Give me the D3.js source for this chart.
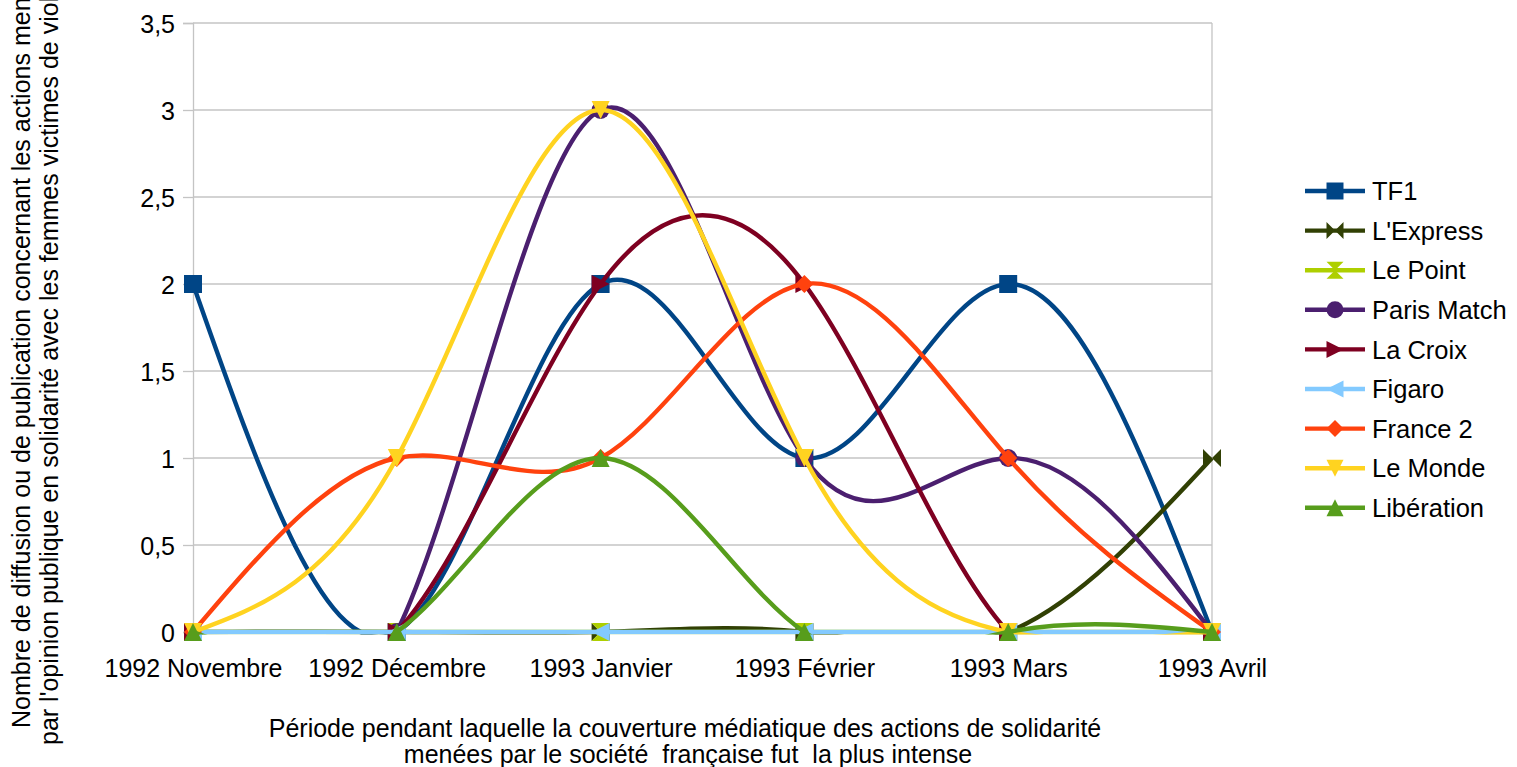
<!DOCTYPE html>
<html>
<head>
<meta charset="utf-8">
<script src="https://cdn.jsdelivr.net/npm/d3@7"></script>
<style>
  html, body { margin: 0; padding: 0; background: #fff; overflow: hidden; }
  svg text { font-family: "Liberation Sans", Arial, sans-serif; fill: #000; }
</style>
</head>
<body>
<svg id="chart" width="1517" height="767"></svg>
<script>
// data
var categories = ["1992 Novembre", "1992 Décembre", "1993 Janvier", "1993 Février", "1993 Mars", "1993 Avril"];
var seriesNames = ["TF1", "L'Express", "Le Point", "Paris Match", "La Croix", "Figaro", "France 2", "Le Monde", "Libération"];
var tf1        = [2, 0, 2, 1, 2, 0];
var lexpress   = [0, 0, 0, 0, 0, 1];
var lepoint    = [0, 0, 0, 0, 0, 0];
var parismatch = [0, 0, 3, 1, 1, 0];
var lacroix    = [0, 0, 2, 2, 0, 0];
var figaro     = [0, 0, 0, 0, 0, 0];
var france2    = [0, 1, 1, 2, 1, 0];
var lemonde    = [0, 1, 3, 1, 0, 0];
var liberation = [0, 0, 1, 0, 0, 0];
var yTicks = [0, 0.5, 1, 1.5, 2, 2.5, 3, 3.5];

var seriesValues = [tf1, lexpress, lepoint, parismatch, lacroix, figaro, france2, lemonde, liberation];
var colors = ["#004586", "#314004", "#aecf00", "#4b1f6f", "#7e0021", "#83caff", "#ff420e", "#ffd320", "#579d1c"];
var shapes = ["square", "bowtie", "hourglass", "circle", "right", "left", "diamond", "down", "up"];

// marker paths
function markerPath(shape, r) {
  switch (shape) {
    case "square": return "M" + (-r) + "," + (-r) + "H" + r + "V" + r + "H" + (-r) + "Z";
    case "bowtie": return "M" + (-r) + "," + (-r) + "L0,0L" + (-r) + "," + r + "Z M" + r + "," + (-r) + "L0,0L" + r + "," + r + "Z";
    case "hourglass": return "M" + (-r) + "," + (-r) + "L" + r + "," + (-r) + "L0,0Z M" + (-r) + "," + r + "L" + r + "," + r + "L0,0Z";
    case "circle": return "M" + r + ",0A" + r + "," + r + " 0 1,1 " + (-r) + ",0A" + r + "," + r + " 0 1,1 " + r + ",0Z";
    case "right": return "M" + (-r) + "," + (-r) + "L" + r + ",0L" + (-r) + "," + r + "Z";
    case "left": return "M" + r + "," + (-r) + "L" + (-r) + ",0L" + r + "," + r + "Z";
    case "diamond": return "M0," + (-r) + "L" + r + ",0L0," + r + "L" + (-r) + ",0Z";
    case "down": return "M" + (-r) + "," + (-r) + "L" + r + "," + (-r) + "L0," + r + "Z";
    case "up": return "M" + (-r) + "," + r + "L" + r + "," + r + "L0," + (-r) + "Z";
  }
}

var svg = d3.select("#chart");
var plot = {left: 193, right: 1212, top: 23, bottom: 632};

var x = d3.scalePoint().domain(categories).range([plot.left, plot.right]);
var y = d3.scaleLinear().domain([0, 3.5]).range([plot.bottom, plot.top]);

var fmt = d3.formatLocale({decimal: ",", thousands: " ", grouping: [3], currency: ["", "€"]}).format("~g");

// gridlines
svg.append("g")
  .selectAll("line")
  .data(yTicks)
  .enter().append("line")
    .attr("x1", plot.left)
    .attr("x2", plot.right)
    .attr("y1", function(d) { return y(d); })
    .attr("y2", function(d) { return y(d); })
    .attr("stroke", "#c4c4c4")
    .attr("stroke-width", 1.3);

// right border
svg.append("line")
  .attr("x1", plot.right).attr("x2", plot.right)
  .attr("y1", plot.top).attr("y2", plot.bottom)
  .attr("stroke", "#c4c4c4")
  .attr("stroke-width", 1.3);

// y axis
var yAxis = svg.append("g")
  .attr("transform", "translate(" + plot.left + ",0)")
  .call(d3.axisLeft(y).tickValues(yTicks).tickSize(10).tickPadding(8).tickFormat(fmt));
yAxis.select(".domain").attr("stroke", "#c4c4c4").attr("stroke-width", 1.3);
yAxis.selectAll(".tick line").attr("stroke", "#c4c4c4").attr("stroke-width", 1.3);
yAxis.selectAll(".tick text").style("font-size", "25px").attr("dy", "0.36em");

// x axis
var xAxis = svg.append("g")
  .attr("transform", "translate(0," + plot.bottom + ")")
  .call(d3.axisBottom(x).tickSize(0).tickPadding(45));
xAxis.select(".domain").remove();
xAxis.selectAll(".tick text").style("font-size", "25px").attr("dy", "0");

// clip for the curves
svg.append("clipPath").attr("id", "plotclip")
  .append("rect")
    .attr("x", plot.left - 5)
    .attr("y", 0)
    .attr("width", plot.right - plot.left + 10)
    .attr("height", plot.bottom + 2.5);

var line = d3.line()
  .x(function(d, i) { return x(categories[i]); })
  .y(function(d) { return y(d); })
  .curve(d3.curveNatural);

seriesValues.forEach(function(vals, s) {
  var g = svg.append("g").attr("class", "series");
  g.append("path")
    .attr("d", line(vals))
    .attr("clip-path", "url(#plotclip)")
    .attr("fill", "none")
    .attr("stroke", colors[s])
    .attr("stroke-width", 4.4)
    .attr("stroke-linejoin", "round");
  g.selectAll(".mk")
    .data(vals)
    .enter().append("path")
      .attr("class", "mk")
      .attr("transform", function(d, i) { return "translate(" + x(categories[i]) + "," + y(d) + ")"; })
      .attr("d", markerPath(shapes[s], 9))
      .attr("fill", colors[s]);
});

// legend
var legend = svg.append("g");
seriesNames.forEach(function(name, i) {
  var ly = 191 + i * 39.6;
  var lg = legend.append("g").attr("transform", "translate(1305," + ly + ")");
  lg.append("line")
    .attr("x1", 0).attr("x2", 60)
    .attr("y1", 0).attr("y2", 0)
    .attr("stroke", colors[i])
    .attr("stroke-width", 4.4);
  lg.append("path")
    .attr("transform", "translate(30,0)")
    .attr("d", markerPath(shapes[i], 8.5))
    .attr("fill", colors[i]);
  lg.append("text")
    .attr("x", 67)
    .attr("y", 0)
    .attr("dy", "0.36em")
    .style("font-size", "25.5px")
    .text(name);
});

// axis titles
svg.append("text")
  .attr("transform", "translate(30,728) rotate(-90)")
  .attr("text-anchor", "start")
  .style("font-size", "25px")
  .text("Nombre de diffusion ou de publication concernant les actions menées");
svg.append("text")
  .attr("transform", "translate(58,745) rotate(-90)")
  .attr("text-anchor", "start")
  .style("font-size", "25px")
  .text("par l'opinion publique en solidarité avec les femmes victimes de viol");

svg.append("text")
  .attr("x", 685).attr("y", 737)
  .attr("text-anchor", "middle")
  .style("font-size", "25px")
  .text("Période pendant laquelle la couverture médiatique des actions de solidarité");
svg.append("text")
  .attr("x", 688).attr("y", 763)
  .attr("text-anchor", "middle")
  .style("font-size", "25px")
  .style("white-space", "pre")
  .text("menées par le société  française fut  la plus intense");
</script>
</body>
</html>
